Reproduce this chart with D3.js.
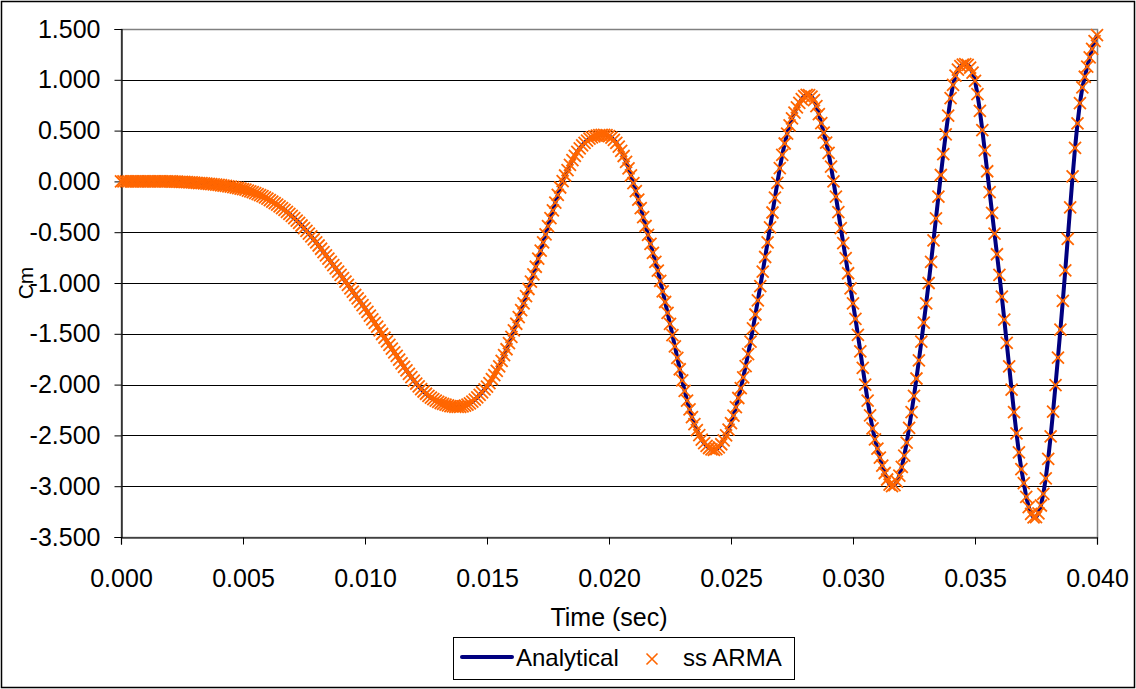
<!DOCTYPE html>
<html>
<head>
<meta charset="utf-8">
<script src="https://cdn.jsdelivr.net/npm/d3@7"></script>
<style>
  body { margin: 0; background: #fff; }
  svg { display: block; font-family: Arial, "Liberation Sans", sans-serif; }
</style>
</head>
<body>
<div id="chart"></div>
<script>
// sample spacing of both series (seconds)
var dt = 0.0001;

// Cm, one row per millisecond (0.0 ... 40.0 ms)
var analytical = [
  0, 0, 0, 0, 0, 0, 0, 0, 0, 0,
  0, 0, 0, 0, 0, 0, 0, 0, 0, 0,
  0, -0.001, -0.002, -0.003, -0.004, -0.005, -0.006, -0.008, -0.009, -0.010,
  -0.012, -0.014, -0.016, -0.018, -0.020, -0.022, -0.025, -0.027, -0.030, -0.032,
  -0.035, -0.038, -0.041, -0.045, -0.048, -0.052, -0.056, -0.061, -0.065, -0.070,
  -0.075, -0.082, -0.090, -0.098, -0.106, -0.115, -0.125, -0.135, -0.146, -0.158,
  -0.170, -0.184, -0.198, -0.213, -0.229, -0.245, -0.263, -0.281, -0.300, -0.320,
  -0.340, -0.362, -0.385, -0.409, -0.434, -0.460, -0.487, -0.514, -0.542, -0.571,
  -0.600, -0.631, -0.663, -0.695, -0.727, -0.760, -0.792, -0.824, -0.856, -0.888,
  -0.920, -0.953, -0.986, -1.019, -1.052, -1.085, -1.118, -1.151, -1.184, -1.217,
  -1.250, -1.285, -1.321, -1.357, -1.393, -1.430, -1.466, -1.502, -1.538, -1.574,
  -1.610, -1.646, -1.682, -1.718, -1.754, -1.790, -1.825, -1.860, -1.894, -1.927,
  -1.960, -1.990, -2.018, -2.044, -2.068, -2.090, -2.110, -2.128, -2.144, -2.158,
  -2.170, -2.181, -2.190, -2.198, -2.205, -2.211, -2.215, -2.218, -2.220, -2.219,
  -2.215, -2.208, -2.198, -2.185, -2.168, -2.148, -2.126, -2.102, -2.076, -2.048,
  -2.020, -1.985, -1.947, -1.907, -1.865, -1.820, -1.766, -1.710, -1.652, -1.592,
  -1.530, -1.466, -1.401, -1.335, -1.268, -1.200, -1.130, -1.059, -0.987, -0.914,
  -0.840, -0.761, -0.681, -0.601, -0.521, -0.440, -0.362, -0.285, -0.208, -0.133,
  -0.060, 0.002, 0.058, 0.110, 0.162, 0.210, 0.252, 0.290, 0.324, 0.354,
  0.380, 0.402, 0.420, 0.434, 0.444, 0.451, 0.456, 0.459, 0.459, 0.456,
  0.445, 0.430, 0.408, 0.379, 0.343, 0.300, 0.250, 0.193, 0.129, 0.059,
  -0.016, -0.096, -0.179, -0.264, -0.351, -0.439, -0.527, -0.615, -0.703, -0.791,
  -0.879, -0.979, -1.082, -1.187, -1.294, -1.402, -1.512, -1.624, -1.737, -1.849,
  -1.959, -2.062, -2.157, -2.243, -2.320, -2.388, -2.447, -2.498, -2.541, -2.576,
  -2.603, -2.624, -2.638, -2.643, -2.636, -2.617, -2.587, -2.548, -2.500, -2.444,
  -2.380, -2.305, -2.222, -2.132, -2.035, -1.930, -1.818, -1.700, -1.576, -1.446,
  -1.310, -1.172, -1.031, -0.888, -0.744, -0.600, -0.453, -0.306, -0.160, -0.014,
  0.130, 0.260, 0.373, 0.470, 0.552, 0.620, 0.678, 0.728, 0.772, 0.810,
  0.840, 0.851, 0.850, 0.835, 0.800, 0.740, 0.662, 0.574, 0.480, 0.381,
  0.280, 0.145, 0.000, -0.150, -0.303, -0.460, -0.608, -0.756, -0.904, -1.052,
  -1.200, -1.352, -1.510, -1.672, -1.836, -2.000, -2.158, -2.303, -2.431, -2.540,
  -2.630, -2.718, -2.798, -2.870, -2.934, -2.985, -3.000, -2.990, -2.955, -2.895,
  -2.810, -2.700, -2.570, -2.425, -2.270, -2.110, -1.940, -1.762, -1.578, -1.390,
  -1.200, -1.000, -0.792, -0.580, -0.365, -0.150, 0.063, 0.269, 0.463, 0.647,
  0.820, 0.950, 1.040, 1.100, 1.135, 1.150, 1.155, 1.148, 1.120, 1.070,
  0.990, 0.860, 0.695, 0.505, 0.305, 0.100, -0.105, -0.310, -0.514, -0.717,
  -0.920, -1.135, -1.360, -1.590, -1.820, -2.050, -2.272, -2.480, -2.668, -2.833,
  -2.970, -3.104, -3.205, -3.272, -3.306, -3.305, -3.267, -3.190, -3.075, -2.922,
  -2.730, -2.510, -2.265, -2.005, -1.735, -1.460, -1.175, -0.875, -0.565, -0.255,
  0.050, 0.330, 0.570, 0.770, 0.925, 1.030, 1.130, 1.220, 1.305, 1.380,
  1.440
];

// the ss ARMA points sit on the analytical curve at every sample
var ssArma = analytical.slice();

var seriesNames = ["Analytical", "ss ARMA"];
var xTicks = [0, 0.005, 0.010, 0.015, 0.020, 0.025, 0.030, 0.035, 0.040];
var yTicks = [1.5, 1.0, 0.5, 0.0, -0.5, -1.0, -1.5, -2.0, -2.5, -3.0, -3.5];
var xTitle = "Time (sec)";
var yTitle = "Cm";

var W = 1136, H = 689;
var plot = {left: 121, right: 1097, top: 29, bottom: 537};

var svg = d3.select("#chart")
  .append("svg")
    .attr("width", W)
    .attr("height", H);

// chart area frame
svg.append("rect")
    .attr("x", 1.5).attr("y", 1.5)
    .attr("width", W - 3).attr("height", H - 3)
    .attr("fill", "#fff")
    .attr("stroke", "#000")
    .attr("stroke-width", 1.5);

var x = d3.scaleLinear()
    .domain([0, 0.04])
    .range([plot.left, plot.right]);

var y = d3.scaleLinear()
    .domain([-3.5, 1.5])
    .range([plot.bottom, plot.top]);

// horizontal gridlines
svg.append("g")
  .selectAll("line")
  .data(yTicks)
  .enter()
  .append("line")
    .attr("x1", plot.left)
    .attr("x2", plot.right)
    .attr("y1", function(d) { return Math.round(y(d)) + 0.5; })
    .attr("y2", function(d) { return Math.round(y(d)) + 0.5; })
    .attr("stroke", "#000")
    .attr("stroke-width", 1);

// plot area border (grey)
svg.append("rect")
    .attr("x", plot.left + 0.5)
    .attr("y", plot.top + 0.5)
    .attr("width", plot.right - plot.left)
    .attr("height", plot.bottom - plot.top)
    .attr("fill", "none")
    .attr("stroke", "#808080")
    .attr("stroke-width", 1.5);

// axes
var fmt = function(d) { return d.toFixed(3); };

var yAxis = svg.append("g")
    .attr("transform", "translate(" + (plot.left + 0.5) + ",0)")
    .call(d3.axisLeft(y).tickValues(yTicks).tickFormat(fmt).tickSize(7).tickPadding(14));

var xAxis = svg.append("g")
    .attr("transform", "translate(0," + (plot.bottom + 0.5) + ")")
    .call(d3.axisBottom(x).tickValues(xTicks).tickFormat(fmt).tickSize(7).tickPadding(25));

[yAxis, xAxis].forEach(function(g) {
  g.select(".domain").attr("stroke", "#000").attr("stroke-width", 1.2);
  g.selectAll(".tick line").attr("stroke", "#000");
  g.selectAll(".tick text")
    .attr("fill", "#000")
    .style("font-size", "25px")
    .style("font-family", "Arial, 'Liberation Sans', sans-serif");
});

// axis titles
svg.append("text")
    .attr("x", (plot.left + plot.right) / 2)
    .attr("y", 626)
    .attr("text-anchor", "middle")
    .style("font-size", "25px")
    .text(xTitle);

svg.append("text")
    .attr("transform", "translate(33," + ((plot.top + plot.bottom) / 2) + ") rotate(-90)")
    .attr("text-anchor", "middle")
    .style("font-size", "21px")
    .text(yTitle);

// Analytical: thick navy line
var line = d3.line()
    .x(function(d, i) { return x(i * dt); })
    .y(function(d) { return y(d); });

svg.append("path")
    .datum(analytical)
    .attr("d", line)
    .attr("fill", "none")
    .attr("stroke", "#000080")
    .attr("stroke-width", 4)
    .attr("stroke-linejoin", "round");

// ss ARMA: orange x markers
var cross = "M-6,-6L6,6M-6,6L6,-6";

svg.append("g")
  .selectAll("path")
  .data(ssArma)
  .enter()
  .append("path")
    .attr("d", cross)
    .attr("transform", function(d, i) { return "translate(" + x(i * dt) + "," + y(d) + ")"; })
    .attr("fill", "none")
    .attr("stroke", "#FF6600")
    .attr("stroke-width", 1.8);

// legend
var legend = svg.append("g");

legend.append("rect")
    .attr("x", 453.5).attr("y", 637.5)
    .attr("width", 341).attr("height", 42)
    .attr("fill", "#fff")
    .attr("stroke", "#000")
    .attr("stroke-width", 1);

legend.append("line")
    .attr("x1", 462).attr("x2", 512)
    .attr("y1", 657).attr("y2", 657)
    .attr("stroke", "#000080")
    .attr("stroke-width", 4)
    .attr("stroke-linecap", "round");

legend.append("text")
    .attr("x", 516).attr("y", 666)
    .style("font-size", "24px")
    .text(seriesNames[0]);

legend.append("path")
    .attr("d", "M-5.5,-5.5L5.5,5.5M-5.5,5.5L5.5,-5.5")
    .attr("transform", "translate(652,659)")
    .attr("fill", "none")
    .attr("stroke", "#FF6600")
    .attr("stroke-width", 1.6);

legend.append("text")
    .attr("x", 683).attr("y", 666)
    .style("font-size", "24px")
    .text(seriesNames[1]);
</script>
</body>
</html>
